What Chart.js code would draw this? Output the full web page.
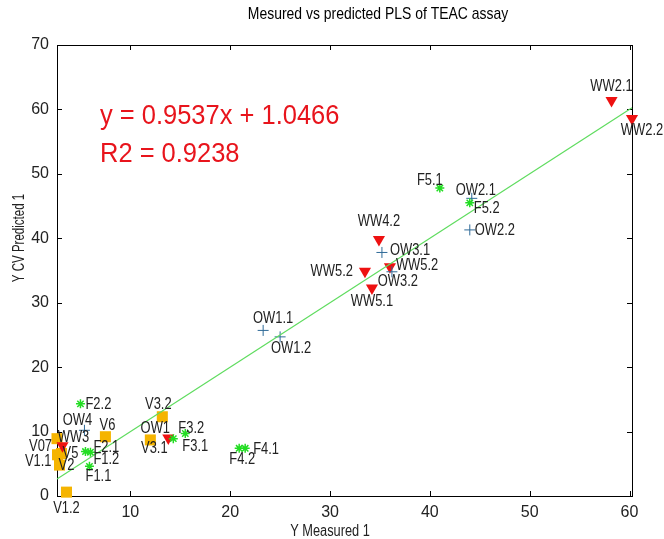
<!DOCTYPE html>
<html><head><meta charset="utf-8">
<script src="https://cdn.jsdelivr.net/npm/chart.js@4.4.1/dist/chart.umd.min.js"></script>
<style>html,body{margin:0;padding:0;background:#fff;}canvas{display:block;}</style>
</head><body>
<canvas id="c" width="664" height="539"></canvas>
<script>
// ---------------- data ----------------
const owNames = ['OW1.1','OW1.2','OW2.1','OW2.2','OW3.1','OW3.2','OW4'];
const owX     = [23.3, 25.0, 44.2, 44.0, 35.2, 36.2, 5.4];
const owY     = [25.7, 24.7, 46.2, 41.3, 37.8, 34.8, 10.2];

const fNames = ['F1.1','F1.2','F2.1','F2.2','F3.1','F3.2','F4.1','F4.2','F5.1','F5.2'];
const fX     = [5.9, 6.0, 5.5, 5.0, 14.3, 15.5, 21.5, 20.9, 41.0, 44.0];
const fY     = [4.6, 6.8, 6.9, 14.3, 8.9, 9.7, 7.4, 7.4, 47.8, 45.5];

const wwNames = ['WW2.1','WW2.2','WW3','WW4.2','WW5.1','WW5.2','WW5.2','OW1'];
const wwX     = [58.2, 60.25, 3.2, 34.9, 34.2, 33.5, 36.0, 13.8];
const wwY     = [61.4, 58.6, 7.8, 39.8, 32.3, 34.9, 35.6, 9.0];

const vNames = ['V07','V1.1','V2','V5','V1.2','V6','V3.1','V3.2'];
const vX     = [2.65, 2.7, 2.9, 3.1, 3.6, 7.5, 12.0, 13.2];
const vY     = [8.9, 6.4, 4.8, 6.6, 0.6, 9.2, 8.7, 12.3];

const xTickValues = [10, 20, 30, 40, 50, 60];
const yTickValues = [0, 10, 20, 30, 40, 50, 60, 70];

const titleText = 'Mesured vs predicted PLS of TEAC assay';
const xTitle = 'Y Measured 1';
const yTitle = 'Y CV Predicted 1';
const eqLines = ['y = 0.9537x + 1.0466', 'R2 = 0.9238'];

// ---------------- label placement (px offsets from marker) ----------------
const owLabelPos = [[10,-12,'center'],[11,11,'center'],[4,-8,'center'],[5,0,'left'],[8,-2,'left'],[6,10,'center'],[-7,-10,'center']];
const fLabelPos  = [[9,10,'center'],[3,7,'left'],[8,-4,'left'],[5,0,'left'],[9,8,'left'],[6,-5,'center'],[8,1,'left'],[3,11,'center'],[-10,-8,'center'],[4,5,'left']];
const wwLabelPos = [[0,-14,'center'],[10,12,'center'],[11,-8,'center'],[0,-18,'center'],[0,13,'center'],[-12,0,'right'],[6,-1,'left'],[-13,-10,'center']];
const vLabelPos  = [[-5,8,'right'],[-6,7,'right'],[7,0,'center'],[9,0,'center'],[0,16,'center'],[2,-11,'center'],[4,8,'center'],[-4,-12,'center']];

const FAM = "'Liberation Sans', Arial, sans-serif";
const pts = (xs, ys) => xs.map((v, i) => ({x: v, y: ys[i]}));
const allX = [].concat(owX, fX, wwX, vX);
const xMin = Math.min(...allX), xMax = Math.max(...allX);

function drawText(ctx, text, x, y, align, sx, sy, rot){
  ctx.save();
  ctx.translate(x, y);
  if (rot) ctx.rotate(rot);
  ctx.scale(sx, sy);
  ctx.textAlign = align;
  ctx.fillText(text, 0, 0);
  ctx.restore();
}

// ---------------- plugin: box, inside ticks, texts, point labels ----------------
const decor = {
  id: 'decor',
  beforeDatasetsDraw(chart){
    const {ctx, chartArea: a, scales: {x, y}} = chart;
    ctx.save();
    ctx.strokeStyle = '#000'; ctx.lineWidth = 1;
    ctx.strokeRect(Math.round(a.left) + 0.5, Math.round(a.top) + 0.5, Math.round(a.right - a.left), Math.round(a.bottom - a.top));
    ctx.beginPath();
    x.ticks.forEach(t => {
      const p = Math.round(x.getPixelForValue(t.value)) + 0.5;
      ctx.moveTo(p, a.bottom); ctx.lineTo(p, a.bottom - 5);
      ctx.moveTo(p, a.top); ctx.lineTo(p, a.top + 5);
    });
    y.ticks.forEach(t => {
      const p = Math.round(y.getPixelForValue(t.value)) + 0.5;
      ctx.moveTo(a.left, p); ctx.lineTo(a.left + 5, p);
      ctx.moveTo(a.right, p); ctx.lineTo(a.right - 5, p);
    });
    ctx.stroke();
    ctx.restore();
  },
  afterDatasetsDraw(chart){
    const {ctx} = chart;
    ctx.save();
    // point labels
    ctx.fillStyle = '#222';
    ctx.font = '17px ' + FAM;
    ctx.textBaseline = 'middle';
    const groups = [[0, owNames, owLabelPos],[1, fNames, fLabelPos],[2, wwNames, wwLabelPos],[3, vNames, vLabelPos]];
    groups.forEach(([di, names, pos]) => {
      const meta = chart.getDatasetMeta(di);
      meta.data.forEach((el, i) => {
        const [dx, dy, al] = pos[i];
        drawText(ctx, names[i], el.x + dx, el.y + dy, al, 0.76, 1);
      });
    });
    ctx.textBaseline = 'alphabetic';
    // title
    ctx.fillStyle = '#000';
    ctx.font = '17px ' + FAM;
    drawText(ctx, titleText, 378, 19, 'center', 0.82, 1);
    // axis titles
    ctx.fillStyle = '#222';
    ctx.font = '16px ' + FAM;
    drawText(ctx, xTitle, 330, 536, 'center', 0.8, 1);
    drawText(ctx, yTitle, 24, 238, 'center', 0.72, 1, -Math.PI / 2);
    // equation
    ctx.fillStyle = '#e8141c';
    ctx.font = '28px ' + FAM;
    drawText(ctx, eqLines[0], 100, 124, 'left', 0.91, 1);
    drawText(ctx, eqLines[1], 100, 162, 'left', 0.91, 1);
    ctx.restore();
  }
};

new Chart(document.getElementById('c'), {
  type: 'scatter',
  data: {
    datasets: [
      {label: 'OW', data: pts(owX, owY), pointStyle: 'cross', pointRadius: 5.5, pointBorderColor: '#2f6a98', pointBackgroundColor: '#2f6a98', pointBorderWidth: 1, order: 2, clip: false},
      {label: 'F', data: pts(fX, fY), pointStyle: 'star', pointRadius: 4.5, pointBorderColor: '#22dd22', pointBackgroundColor: '#22dd22', pointBorderWidth: 1.5, order: 1, clip: false},
      {label: 'WW', data: pts(wwX, wwY), pointStyle: 'triangle', pointRotation: 180, pointRadius: 7, pointBorderColor: '#ee1111', pointBackgroundColor: '#ee1111', pointBorderWidth: 0, order: 3, clip: false},
      {label: 'V', data: pts(vX, vY), pointStyle: 'rect', pointRadius: 7.8, pointBorderColor: '#f5b400', pointBackgroundColor: '#f5b400', pointBorderWidth: 0, order: 4, clip: false},
      {type: 'line', label: 'ideal', data: [{x: xMin, y: xMin}, {x: xMax, y: xMax}], borderColor: '#5fdc5f', borderWidth: 1.2, pointRadius: 0, order: 0, clip: false}
    ]
  },
  options: {
    responsive: false, animation: false, devicePixelRatio: 1,
    layout: {padding: {left: 0, right: 32, top: 45, bottom: 0}},
    plugins: {legend: {display: false}, tooltip: {enabled: false}, title: {display: false}},
    scales: {
      x: {
        type: 'linear', min: xMin, max: xMax,
        grid: {display: false, drawTicks: false}, border: {display: false},
        afterBuildTicks: s => { s.ticks = xTickValues.map(v => ({value: v})); },
        afterFit: s => { s.height = 43; },
        ticks: {color: '#222', padding: 7, font: {family: FAM, size: 16}, maxRotation: 0}
      },
      y: {
        type: 'linear', min: 0, max: 70,
        grid: {display: false, drawTicks: false}, border: {display: false},
        afterBuildTicks: s => { s.ticks = yTickValues.map(v => ({value: v})); },
        afterFit: s => { s.width = 57; },
        ticks: {color: '#222', padding: 8, font: {family: FAM, size: 16}}
      }
    }
  },
  plugins: [decor]
});
</script>
</body></html>
